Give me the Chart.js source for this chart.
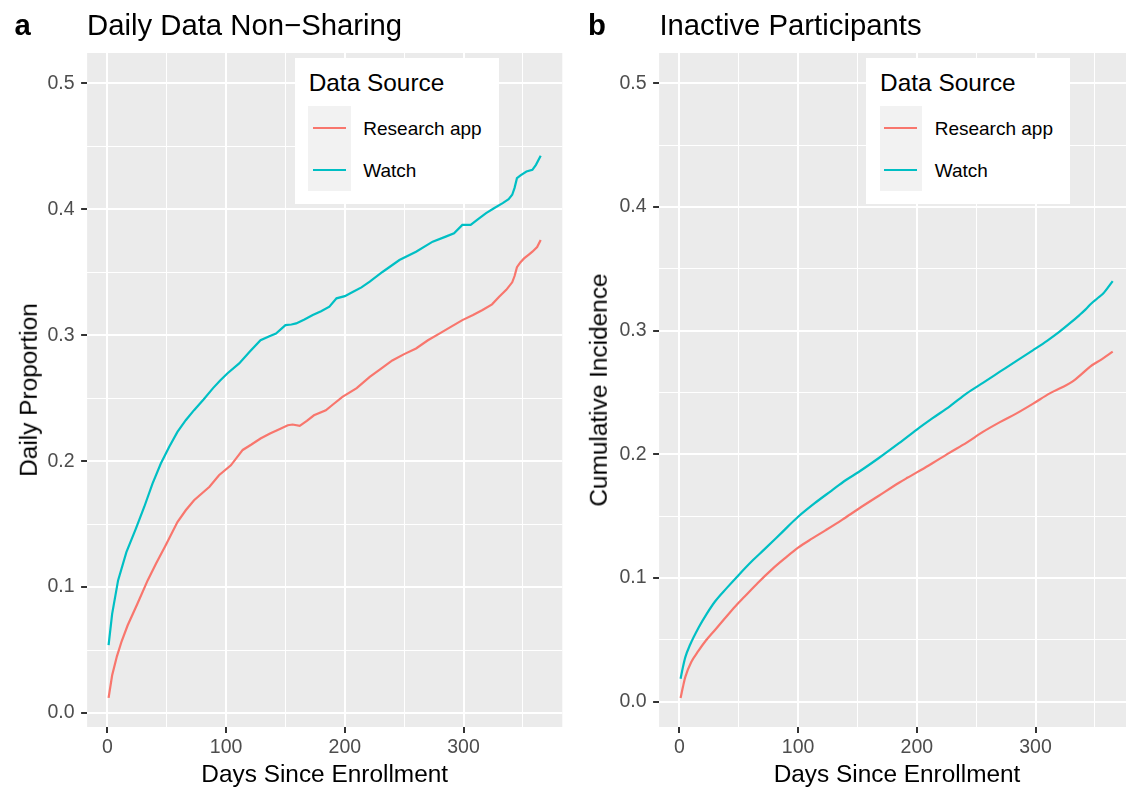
<!DOCTYPE html>
<html>
<head>
<meta charset="utf-8">
<script src="https://cdn.jsdelivr.net/npm/chart.js@4.4.1/dist/chart.umd.min.js"></script>
<style>
  body { margin: 0; background: #fff; }
  #wrap { position: relative; width: 1126px; height: 787px; overflow: hidden;
          font-family: "Liberation Sans", Arial, Helvetica, sans-serif; color: #000; }
  .box { position: absolute; }
  .txt { position: absolute; line-height: 1; white-space: nowrap; }
  .ytitle { position: absolute; line-height: 1; white-space: nowrap; font-size: 24.4px;
            transform: translate(-50%, -50%) rotate(-90deg); }
  .xtitle { position: absolute; line-height: 1; white-space: nowrap; font-size: 24.4px;
            transform: translateX(-50%); }
</style>
</head>
<body>
<div id="wrap">
  <div class="box" style="left:0;top:0;width:575px;height:787px"><canvas id="panelA" width="575" height="787"></canvas></div>
  <div class="box" style="left:575px;top:0;width:551px;height:787px"><canvas id="panelB" width="551" height="787"></canvas></div>

  <div class="txt" style="left:14.5px;top:9.7px;font-size:29.3px;font-weight:bold">a</div>
  <div class="txt" style="left:87px;top:9.5px;font-size:29.3px">Daily Data Non−Sharing</div>
  <div class="txt" style="left:588px;top:9.7px;font-size:29.3px;font-weight:bold">b</div>
  <div class="txt" style="left:659.4px;top:9.5px;font-size:29.3px">Inactive Participants</div>

  <div class="ytitle" style="left:29.2px;top:390px">Daily Proportion</div>
  <div class="ytitle" style="left:598.6px;top:390px">Cumulative Incidence</div>
  <div class="xtitle" style="left:324.7px;top:762px">Days Since Enrollment</div>
  <div class="xtitle" style="left:897px;top:762px">Days Since Enrollment</div>
</div>

<script>
// series names and colours (ggplot defaults)
const seriesNames = ['Research app', 'Watch'];
const seriesColors = ['#F8766D', '#00BFC4'];

// panel a: daily data non-sharing
const appDaysA = [1, 4, 8, 12, 17, 25, 34, 41, 49, 59, 66, 73, 86, 94, 104, 114, 121, 129, 137, 143, 152, 156, 162, 168, 174, 184, 190, 198, 210, 221, 230, 240, 250, 260, 270, 280, 290, 299, 308, 316, 324, 330, 336, 341, 343, 345, 348, 351, 355, 358, 362, 365];
const appValsA = [0.012, 0.030, 0.045, 0.057, 0.0695, 0.0862, 0.1055, 0.1188, 0.133, 0.1516, 0.161, 0.169, 0.1797, 0.1888, 0.1967, 0.2089, 0.213, 0.218, 0.222, 0.2246, 0.2285, 0.2291, 0.228, 0.232, 0.2364, 0.2404, 0.245, 0.251, 0.258, 0.2669, 0.273, 0.280, 0.285, 0.2895, 0.296, 0.3015, 0.307, 0.312, 0.316, 0.320, 0.3245, 0.3305, 0.336, 0.342, 0.347, 0.354, 0.358, 0.361, 0.364, 0.3663, 0.370, 0.3757];
const watchDaysA = [1, 4, 9, 16, 24, 31, 38, 45, 52, 59, 66, 73, 81, 89, 95, 101, 111, 120, 129, 136, 142, 150, 155, 159, 166, 173, 180, 187, 193, 200, 207, 214, 221, 232, 246, 260, 274, 285, 292, 299, 306, 312, 319, 326, 333, 338, 341, 343, 345, 348, 353, 358, 361, 365];
const watchValsA = [0.054, 0.0788, 0.1053, 0.1278, 0.1464, 0.1636, 0.1822, 0.1981, 0.2113, 0.2232, 0.2325, 0.2405, 0.249, 0.258, 0.264, 0.2696, 0.2776, 0.287, 0.296, 0.299, 0.3014, 0.308, 0.3085, 0.3094, 0.3125, 0.316, 0.319, 0.3226, 0.3293, 0.331, 0.3345, 0.338, 0.3425, 0.3504, 0.3597, 0.3663, 0.3743, 0.3783, 0.381, 0.3876, 0.3876, 0.392, 0.3969, 0.401, 0.4049, 0.408, 0.4115, 0.417, 0.4247, 0.427, 0.430, 0.4313, 0.4353, 0.4425];

// panel b: inactive participants (cumulative incidence)
const appDaysB = [1, 3, 5, 10, 16, 22, 30, 38, 47, 55, 66, 78, 89, 100, 112, 123, 137, 151, 168, 185, 192, 210, 227, 242, 256, 270, 284, 298, 312, 322, 331, 339, 346, 356, 365];
const appValsB = [0.003, 0.012, 0.020, 0.032, 0.041, 0.049, 0.058, 0.067, 0.077, 0.085, 0.096, 0.107, 0.116, 0.1245, 0.132, 0.1385, 0.147, 0.156, 0.1665, 0.177, 0.181, 0.191, 0.201, 0.2095, 0.2183, 0.226, 0.2331, 0.241, 0.2493, 0.254, 0.2587, 0.265, 0.271, 0.277, 0.283];
const watchDaysB = [1, 3, 5, 9, 16, 23, 30, 40, 50, 61, 72, 86, 100, 114, 128, 140, 151, 168, 185, 200, 213, 228, 242, 256, 270, 284, 298, 310, 320, 329, 337, 342, 347, 352, 357, 365];
const watchValsB = [0.0185, 0.028, 0.036, 0.046, 0.0596, 0.071, 0.081, 0.092, 0.1025, 0.1135, 0.1235, 0.1365, 0.1495, 0.1605, 0.1705, 0.179, 0.1857, 0.197, 0.209, 0.220, 0.229, 0.239, 0.2493, 0.258, 0.2668, 0.2756, 0.2843, 0.292, 0.299, 0.306, 0.3126, 0.317, 0.322, 0.326, 0.330, 0.340];

// gridline positions (majors at even index)
const xGrid = [0, 50, 100, 150, 200, 250, 300, 350];
const yGrid = [0, 0.05, 0.1, 0.15, 0.2, 0.25, 0.3, 0.35, 0.4, 0.45, 0.5];

const FONT = '"Liberation Sans", Arial, Helvetica, sans-serif';

const panelBg = {
  id: 'panelBg',
  beforeDraw(chart) {
    const { ctx, chartArea: a } = chart;
    ctx.save();
    ctx.fillStyle = '#EBEBEB';
    ctx.fillRect(a.left, a.top, a.right - a.left, a.bottom - a.top);
    ctx.restore();
  }
};

function toPoints(days, vals) {
  return days.map((d, i) => ({ x: d, y: vals[i] }));
}

function gridOpts() {
  return {
    color: '#FFFFFF',
    lineWidth: (c) => (c.index % 2 === 0 ? 2 : 1),
    tickColor: (c) => (c.index % 2 === 0 ? '#333333' : 'rgba(0,0,0,0)'),
    tickWidth: 2,
    tickLength: 6,
    drawTicks: true
  };
}

// smooth: monotone curve (panel b), otherwise straight segments (daily data, panel a)
function makePanel(id, series, smooth, xMin, xMax, yMin, yMax, yAxisWidth, padRight) {
  const ctx = document.getElementById(id).getContext('2d');
  return new Chart(ctx, {
    type: 'line',
    data: {
      datasets: series.map((s, i) => ({
        label: seriesNames[i],
        data: s,
        borderColor: seriesColors[i],
        backgroundColor: seriesColors[i],
        borderWidth: 2.2,
        pointRadius: 0,
        tension: 0,
        cubicInterpolationMode: smooth ? 'monotone' : 'default',
        fill: false
      }))
    },
    plugins: [panelBg],
    options: {
      responsive: false,
      animation: false,
      layout: { padding: { top: 53, left: 0, right: padRight, bottom: 20 } },
      plugins: { legend: { display: false }, tooltip: { enabled: false }, title: { display: false } },
      scales: {
        x: {
          type: 'linear',
          min: xMin,
          max: xMax,
          afterBuildTicks: (axis) => { axis.ticks = xGrid.map(v => ({ value: v })); },
          afterFit: (axis) => { axis.height = 40; },
          border: { display: false },
          grid: gridOpts(),
          ticks: {
            autoSkip: false,
            maxRotation: 0,
            padding: 3,
            color: '#4D4D4D',
            font: { family: FONT, size: 19.5 },
            callback: (v, i) => (i % 2 === 0 ? String(v) : '')
          }
        },
        y: {
          type: 'linear',
          min: yMin,
          max: yMax,
          afterBuildTicks: (axis) => { axis.ticks = yGrid.map(v => ({ value: v })); },
          afterFit: (axis) => { axis.width = yAxisWidth; },
          border: { display: false },
          grid: gridOpts(),
          ticks: {
            autoSkip: false,
            padding: 6.5,
            color: '#4D4D4D',
            font: { family: FONT, size: 19.5 },
            callback: (v, i) => (i % 2 === 0 ? v.toFixed(1) : '')
          }
        }
      }
    }
  });
}

makePanel('panelA',
  [toPoints(appDaysA, appValsA), toPoints(watchDaysA, watchValsA)], false,
  -17.1, 383.2, -0.0111, 0.5241, 87.1, 12.7);
makePanel('panelB',
  [toPoints(appDaysB, appValsB), toPoints(watchDaysB, watchValsB)], true,
  -17.1, 376.2, -0.0205, 0.5245, 84.1, 0);

// ggplot-style legends inside each panel
function addLegend(left) {
  const wrap = document.getElementById('wrap');
  const add = (css, text) => {
    const d = document.createElement('div');
    d.style.cssText = 'position:absolute;' + css;
    if (text) { d.className = 'txt'; d.textContent = text; }
    wrap.appendChild(d);
  };
  add(`left:${left}px;top:58px;width:204px;height:146px;background:#FFFFFF`);
  add(`left:${left + 14}px;top:71.3px;font-size:24.4px`, 'Data Source');
  add(`left:${left + 13.5}px;top:106px;width:42.5px;height:84.7px;background:#F2F2F2`);
  const keyY = [127.8, 170];
  seriesNames.forEach((name, i) => {
    add(`left:${left + 17.8}px;top:${keyY[i] - 1.3}px;width:33.4px;height:2.6px;background:${seriesColors[i]}`);
    add(`left:${left + 68.6}px;top:${keyY[i] - 9.3}px;font-size:19px`, name);
  });
}
addLegend(294.7);
addLegend(866.1);
</script>
</body>
</html>
